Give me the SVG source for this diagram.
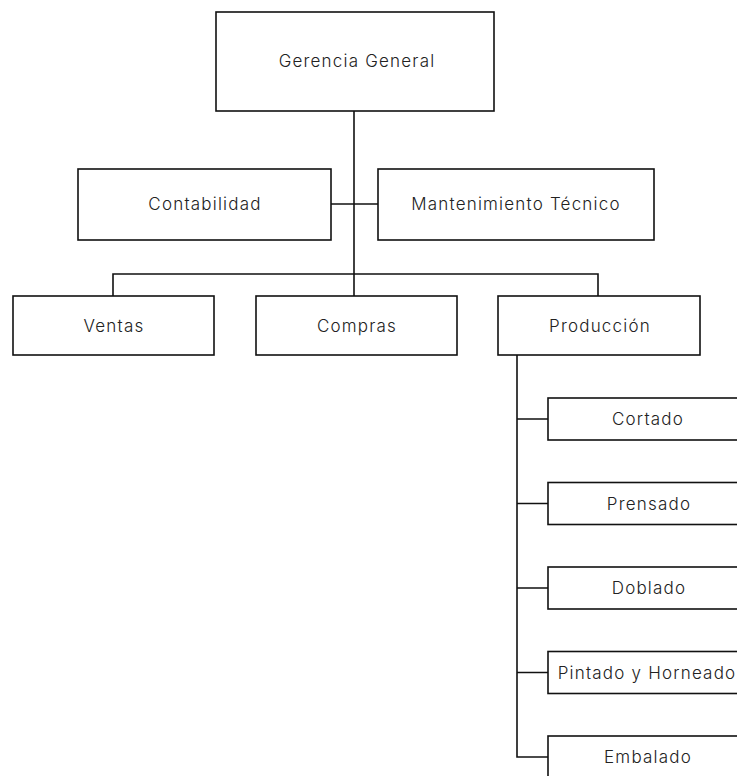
<svg xmlns="http://www.w3.org/2000/svg" width="737" height="776" viewBox="0 0 737 776">
<style>
.box{fill:#fff;stroke:#111;stroke-width:1.6}
.lbl{font-family:Inter,"Liberation Sans",sans-serif;font-size:17px;font-weight:300;letter-spacing:1.2px;fill:#222;text-anchor:middle;dominant-baseline:central}
.ln{fill:none;stroke:#111;stroke-width:1.6}
</style>
<rect width="737" height="776" fill="#fff"/>
<g id="connectors">
<path class="ln" d="M354 111V274"/>
<path class="ln" d="M331 204H378"/>
<path class="ln" d="M113 296V274H598V296"/>
<path class="ln" d="M354 274V296"/>
<path class="ln" d="M517 355V757H548"/>
<path class="ln" d="M517 419H548M517 503.5H548M517 588H548M517 672.5H548"/>
</g>
<g id="gerencia"><rect class="box" x="216" y="12" width="278" height="99"/><text class="lbl" x="357" y="61">Gerencia General</text></g>
<g id="contabilidad"><rect class="box" x="78" y="169" width="253" height="71"/><text class="lbl" x="205" y="204">Contabilidad</text></g>
<g id="mantenimiento"><rect class="box" x="378" y="169" width="276" height="71"/><text class="lbl" x="516" y="204">Mantenimiento Técnico</text></g>
<g id="ventas"><rect class="box" x="13" y="296" width="201" height="59"/><text class="lbl" x="114" y="326">Ventas</text></g>
<g id="compras"><rect class="box" x="256" y="296" width="201" height="59"/><text class="lbl" x="357" y="326">Compras</text></g>
<g id="produccion"><rect class="box" x="498" y="296" width="202" height="59"/><text class="lbl" x="600" y="326">Producción</text></g>
<g id="cortado"><rect class="box" x="548" y="398" width="202" height="42"/><text class="lbl" x="648" y="419">Cortado</text></g>
<g id="prensado"><rect class="box" x="548" y="482.5" width="202" height="42"/><text class="lbl" x="649" y="503.5">Prensado</text></g>
<g id="doblado"><rect class="box" x="548" y="567" width="202" height="42"/><text class="lbl" x="649" y="588">Doblado</text></g>
<g id="pintado"><rect class="box" x="548" y="651.5" width="202" height="42"/><text class="lbl" x="647" y="672.5">Pintado y Horneado</text></g>
<g id="embalado"><rect class="box" x="548" y="736" width="202" height="42"/><text class="lbl" x="648" y="757">Embalado</text></g>
</svg>
